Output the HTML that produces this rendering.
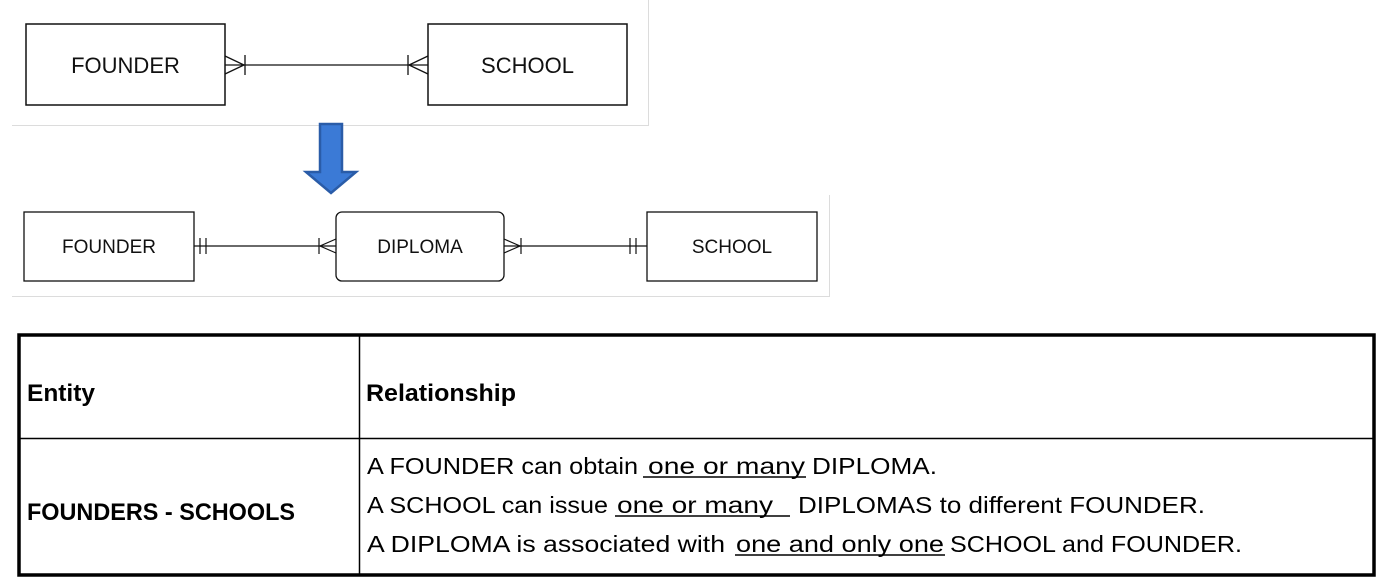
<!DOCTYPE html>
<html><head><meta charset="utf-8"><style>
html,body{margin:0;padding:0;background:#fff;}
svg{display:block;}
text{font-family:"Liberation Sans",Arial,sans-serif;}
</style></head><body>
<svg width="1390" height="588" viewBox="0 0 1390 588" xmlns="http://www.w3.org/2000/svg">
<path d="M12 125.5 H648.5 V0" fill="none" stroke="#dcdcdc" stroke-width="1"/>
<rect x="26" y="24" width="199" height="81" fill="#fff" stroke="#111" stroke-width="1.5"/>
<text x="125.5" y="73" font-size="22" text-anchor="middle" fill="#111">FOUNDER</text>
<rect x="428" y="24" width="199" height="81" fill="#fff" stroke="#111" stroke-width="1.5"/>
<text x="527.5" y="73" font-size="22" text-anchor="middle" fill="#111">SCHOOL</text>
<g stroke="#111" stroke-width="1.3" fill="none">
<line x1="225" y1="65" x2="428" y2="65"/>
<path d="M225 56 L244 65 L225 74"/><line x1="245" y1="55" x2="245" y2="75"/>
<path d="M428 56 L409 65 L428 74"/><line x1="408" y1="55" x2="408" y2="75"/>
</g>
<path d="M320 124 H342 V172 H356 L331 193 L306 172 H320 Z" fill="#3b7ad6" stroke="#2a5ca8" stroke-width="2.5"/>
<path d="M12 296.5 H829.5 V195" fill="none" stroke="#dcdcdc" stroke-width="1"/>
<rect x="24" y="212" width="170" height="69" fill="#fff" stroke="#111" stroke-width="1.3"/>
<text x="109" y="253" font-size="19" text-anchor="middle" fill="#111">FOUNDER</text>
<rect x="336" y="212" width="168" height="69" rx="6" fill="#fff" stroke="#111" stroke-width="1.3"/>
<text x="420" y="253" font-size="19" text-anchor="middle" fill="#111">DIPLOMA</text>
<rect x="647" y="212" width="170" height="69" fill="#fff" stroke="#111" stroke-width="1.3"/>
<text x="732" y="253" font-size="19" text-anchor="middle" fill="#111">SCHOOL</text>
<g stroke="#111" stroke-width="1.2" fill="none">
<line x1="194" y1="246" x2="336" y2="246"/>
<line x1="200" y1="238" x2="200" y2="254"/><line x1="206" y1="238" x2="206" y2="254"/>
<path d="M336 239 L320 246 L336 253"/><line x1="319" y1="238" x2="319" y2="254"/>
<line x1="504" y1="246" x2="647" y2="246"/>
<path d="M504 239 L520 246 L504 253"/><line x1="521" y1="238" x2="521" y2="254"/>
<line x1="630" y1="238" x2="630" y2="254"/><line x1="636" y1="238" x2="636" y2="254"/>
</g>
<rect x="19" y="335" width="1355" height="240" fill="none" stroke="#000" stroke-width="3.5"/>
<line x1="359.5" y1="335" x2="359.5" y2="575" stroke="#000" stroke-width="1.5"/>
<line x1="19" y1="438.5" x2="1374" y2="438.5" stroke="#000" stroke-width="1.5"/>
<text x="27" y="401" font-size="24" font-weight="bold" textLength="68" lengthAdjust="spacingAndGlyphs">Entity</text>
<text x="366" y="401" font-size="24" font-weight="bold" textLength="150" lengthAdjust="spacingAndGlyphs">Relationship</text>
<text x="27" y="520" font-size="24" font-weight="bold" textLength="268" lengthAdjust="spacingAndGlyphs">FOUNDERS - SCHOOLS</text>
<g font-size="23">
<text x="367" y="474" textLength="271" lengthAdjust="spacingAndGlyphs">A FOUNDER can obtain</text>
<text x="648" y="474" textLength="157" lengthAdjust="spacingAndGlyphs">one or many</text>
<text x="812" y="474" textLength="125" lengthAdjust="spacingAndGlyphs">DIPLOMA.</text>
<text x="367" y="513" textLength="241" lengthAdjust="spacingAndGlyphs">A SCHOOL can issue</text>
<text x="617" y="513" textLength="156" lengthAdjust="spacingAndGlyphs">one or many</text>
<text x="798" y="513" textLength="407" lengthAdjust="spacingAndGlyphs">DIPLOMAS to different FOUNDER.</text>
<text x="367" y="552" textLength="358" lengthAdjust="spacingAndGlyphs">A DIPLOMA is associated with</text>
<text x="736" y="552" textLength="208" lengthAdjust="spacingAndGlyphs">one and only one</text>
<text x="950" y="552" textLength="292" lengthAdjust="spacingAndGlyphs">SCHOOL and FOUNDER.</text>
</g>
<g stroke="#000" stroke-width="1.5">
<line x1="643" y1="477" x2="806" y2="477"/>
<line x1="615" y1="516" x2="790" y2="516"/>
<line x1="735" y1="555" x2="945" y2="555"/>
</g>
</svg>
</body></html>
